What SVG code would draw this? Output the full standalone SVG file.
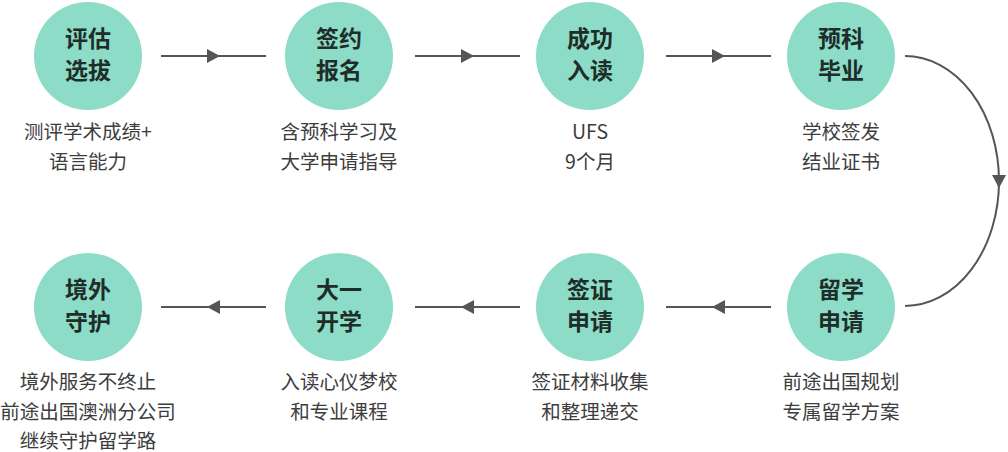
<svg xmlns="http://www.w3.org/2000/svg" width="1008" height="452" viewBox="0 0 1008 452">
<defs>
<style>
.c{fill:#8cdcc8}
.t{font-family:"Noto Sans CJK SC","Noto Sans",sans-serif;font-size:23px;font-weight:bold;fill:#1f2d29;text-anchor:middle}
.d{font-family:"Noto Sans CJK SC","Noto Sans",sans-serif;font-size:19.5px;fill:#3d3d3d;text-anchor:middle}
.l{stroke:#555;stroke-width:2;fill:none}
.h{fill:#555}
</style>
</defs>
<rect width="1008" height="452" fill="#fff"/>
<g id="connectors">
<line class="l" x1="161" y1="56" x2="266" y2="56"/>
<polygon class="h" points="207,49 220,56 207,63"/>
<line class="l" x1="415" y1="56" x2="520" y2="56"/>
<polygon class="h" points="461,49 474,56 461,63"/>
<line class="l" x1="666" y1="56" x2="771" y2="56"/>
<polygon class="h" points="712,49 725,56 712,63"/>
<path class="l" d="M905,56 A94,125 0 0 1 905,306"/>
<polygon class="h" points="992,175 1006,175 999,188"/>
<line class="l" x1="161" y1="307" x2="266" y2="307"/>
<polygon class="h" points="220,300 207,307 220,314"/>
<line class="l" x1="415" y1="307" x2="520" y2="307"/>
<polygon class="h" points="474,300 461,307 474,314"/>
<line class="l" x1="666" y1="307" x2="771" y2="307"/>
<polygon class="h" points="725,300 712,307 725,314"/>
</g>
<g id="n1"><circle class="c" cx="88" cy="56" r="54"/><text class="t" x="88" y="47">评估</text><text class="t" x="88" y="79">选拔</text><text class="d" x="88" y="139">测评学术成绩+</text><text class="d" x="88" y="169">语言能力</text></g>
<g id="n2"><circle class="c" cx="339" cy="56" r="54"/><text class="t" x="339" y="47">签约</text><text class="t" x="339" y="79">报名</text><text class="d" x="339" y="139">含预科学习及</text><text class="d" x="339" y="169">大学申请指导</text></g>
<g id="n3"><circle class="c" cx="590" cy="56" r="54"/><text class="t" x="590" y="47">成功</text><text class="t" x="590" y="79">入读</text><text class="d" x="590" y="139">UFS</text><text class="d" x="590" y="169">9个月</text></g>
<g id="n4"><circle class="c" cx="841" cy="56" r="54"/><text class="t" x="841" y="47">预科</text><text class="t" x="841" y="79">毕业</text><text class="d" x="841" y="139">学校签发</text><text class="d" x="841" y="169">结业证书</text></g>
<g id="n5"><circle class="c" cx="841" cy="307" r="54"/><text class="t" x="841" y="298">留学</text><text class="t" x="841" y="330">申请</text><text class="d" x="841" y="389">前途出国规划</text><text class="d" x="841" y="419">专属留学方案</text></g>
<g id="n6"><circle class="c" cx="590" cy="307" r="54"/><text class="t" x="590" y="298">签证</text><text class="t" x="590" y="330">申请</text><text class="d" x="590" y="389">签证材料收集</text><text class="d" x="590" y="419">和整理递交</text></g>
<g id="n7"><circle class="c" cx="339" cy="307" r="54"/><text class="t" x="339" y="298">大一</text><text class="t" x="339" y="330">开学</text><text class="d" x="339" y="389">入读心仪梦校</text><text class="d" x="339" y="419">和专业课程</text></g>
<g id="n8"><circle class="c" cx="88" cy="307" r="54"/><text class="t" x="88" y="298">境外</text><text class="t" x="88" y="330">守护</text><text class="d" x="88" y="389">境外服务不终止</text><text class="d" x="88" y="419">前途出国澳洲分公司</text><text class="d" x="88" y="448">继续守护留学路</text></g>
</svg>
